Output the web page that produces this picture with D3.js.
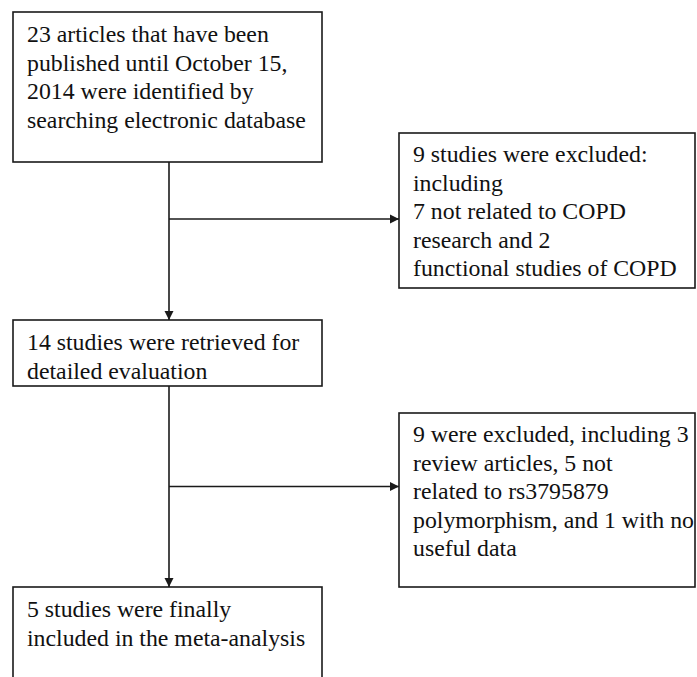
<!DOCTYPE html>
<html><head><meta charset="utf-8">
<script src="https://cdn.jsdelivr.net/npm/d3@7"></script>
<style>html,body{margin:0;padding:0;background:#fff;}svg{display:block;}</style>
</head><body>
<svg id="c" width="697" height="677"></svg>
<script>
// Flowchart content
const boxIds = ["identified", "excluded1", "retrieved", "excluded2", "included"];
const boxTexts = [
  ["23 articles that have been", "published until October 15,", "2014 were identified by", "searching electronic database"],
  ["9 studies were excluded:", "including", "7 not related to COPD", "research and 2", "functional studies of COPD"],
  ["14 studies were retrieved for", "detailed evaluation"],
  ["9 were excluded, including 3", "review articles, 5 not", "related to rs3795879", "polymorphism, and 1 with no", "useful data"],
  ["5 studies were finally", "included in the meta-analysis"]
];
const mainFlow = ["identified", "retrieved", "included"];
const sideFlow = [["identified", "retrieved", "excluded1"], ["retrieved", "included", "excluded2"]];

// layout
const layout = {
  identified: {x: 13, y: 12, w: 309, h: 150},
  excluded1: {x: 399, y: 133, w: 296, h: 155},
  retrieved: {x: 13, y: 320, w: 309, h: 66},
  excluded2: {x: 399, y: 413, w: 296, h: 174},
  included: {x: 13, y: 587, w: 309, h: 110}
};
const firstBaseline = {identified: 42, excluded1: 162, retrieved: 350, excluded2: 442, included: 617};
const lineH = 28.6;
const col = "#1a1a1a";

const svg = d3.select("#c");
const defs = svg.append("defs");
defs.append("marker").attr("id", "ah").attr("viewBox", "0 0 10 10")
  .attr("refX", 10).attr("refY", 5).attr("markerWidth", 9).attr("markerHeight", 10)
  .attr("markerUnits", "userSpaceOnUse").attr("orient", "auto")
  .append("path").attr("d", "M0,0L10,5L0,10Z").attr("fill", col);

const data = boxIds.map((id, i) => ({id, lines: boxTexts[i], ...layout[id]}));

svg.selectAll("rect.box").data(data).join("rect").attr("class", "box")
  .attr("x", d => d.x).attr("y", d => d.y).attr("width", d => d.w).attr("height", d => d.h)
  .attr("fill", "none").attr("stroke", col).attr("stroke-width", 1.6);

const txt = svg.selectAll("text.lbl").data(data).join("text").attr("class", "lbl")
  .attr("x", d => d.x + 14).attr("y", d => firstBaseline[d.id])
  .style("font-family", "Liberation Serif, Times New Roman, serif")
  .style("font-size", "23.8px")
  .attr("fill", "#111");
txt.selectAll("tspan").data(d => d.lines.map((t, i) => ({t, i, x: d.x + 14}))).join("tspan")
  .attr("x", d => d.x).attr("dy", d => d.i === 0 ? 0 : lineH)
  .text(d => d.t);

// main vertical arrows
const cx = d => layout[d].x + 156;
for (let i = 0; i < mainFlow.length - 1; i++) {
  const a = layout[mainFlow[i]], b = layout[mainFlow[i + 1]];
  svg.append("line").attr("x1", cx(mainFlow[i])).attr("x2", cx(mainFlow[i]))
    .attr("y1", a.y + a.h).attr("y2", b.y)
    .attr("stroke", col).attr("stroke-width", 1.6).attr("marker-end", "url(#ah)");
}
// side arrows
sideFlow.forEach(([from, to, side]) => {
  const a = layout[from], b = layout[to], s = layout[side];
  const y = Math.round((a.y + a.h + b.y) / 2) + (from === "identified" ? -22 : -0.5);
  svg.append("line").attr("x1", cx(from)).attr("x2", s.x)
    .attr("y1", y).attr("y2", y)
    .attr("stroke", col).attr("stroke-width", 1.6).attr("marker-end", "url(#ah)");
});
</script>
</body></html>
